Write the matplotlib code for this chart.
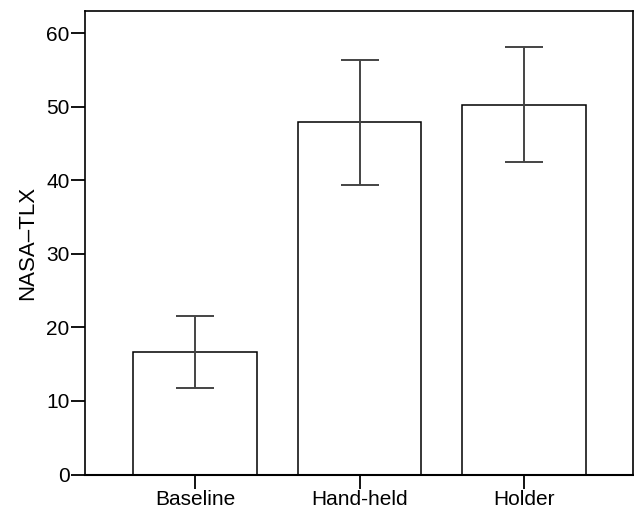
import matplotlib
matplotlib.use("Agg")
import matplotlib.pyplot as plt

plt.rcParams['font.family'] = ['Liberation Sans', 'DejaVu Sans']

conditions = ["Baseline", "Hand-held", "Holder"]
means = [16.6, 47.9, 50.3]
err_low = [11.7, 39.4, 42.5]
err_high = [21.5, 56.4, 58.2]

x = list(range(len(conditions)))
yerr = [[m - lo for m, lo in zip(means, err_low)],
        [hi - m for m, hi in zip(means, err_high)]]

fig = plt.figure(figsize=(6.34, 5.11), dpi=100)
ax = fig.add_axes([0.134, 0.0714, 0.864, 0.908])

ax.bar(x, means, width=0.75, color="white", edgecolor="black", linewidth=1.1, zorder=2)
ax.errorbar(x, means, yerr=yerr, fmt="none", ecolor="#444444", elinewidth=1.4,
            capsize=14, capthick=1.4, zorder=3)

ax.set_xlim(-0.67, 2.66)
ax.set_ylim(0, 63.1)
ax.set_yticks([0, 10, 20, 30, 40, 50, 60])
ax.set_xticks(x)
ax.set_xticklabels(conditions)
ax.set_ylabel("NASA\u2013TLX", fontsize=16, labelpad=6)
ax.tick_params(axis="both", direction="out", length=10, width=1.3, labelsize=15, pad=1)

for s in ax.spines.values():
    s.set_linewidth(1.2)
ax.spines["bottom"].set_linewidth(1.5)

fig.savefig("out.png", dpi=100)
